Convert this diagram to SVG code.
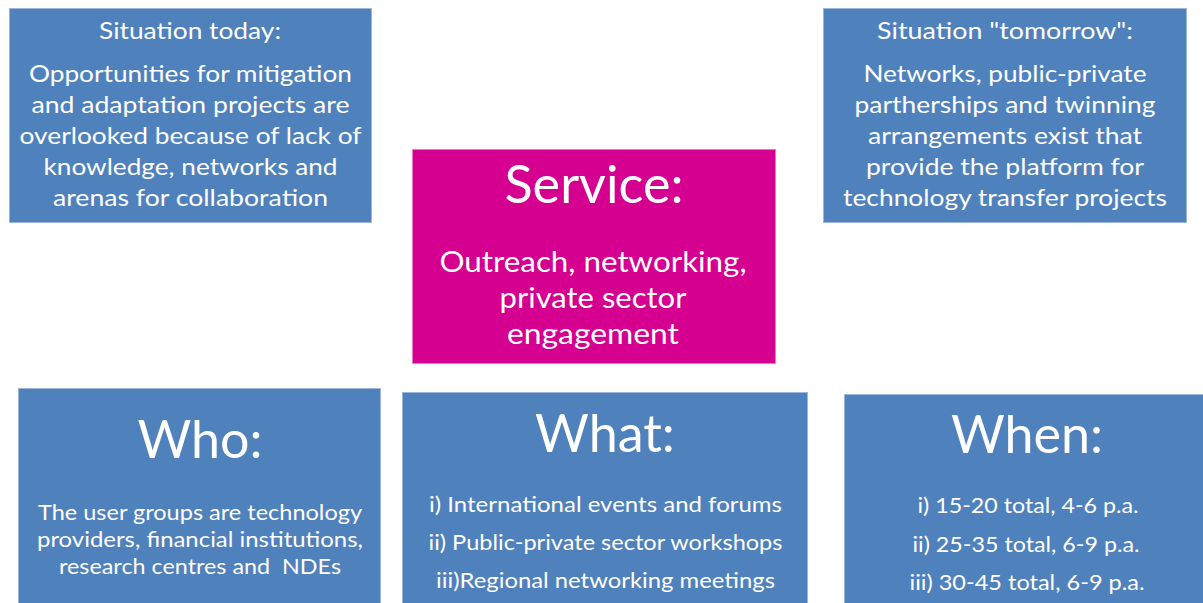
<svg xmlns="http://www.w3.org/2000/svg" width="1203" height="603" viewBox="0 0 1203 603">
<style>
.box{fill:#4F81BD;stroke:#9DB7D8;stroke-width:1}
.svc{fill:#D5008F;stroke:#E87BC4;stroke-width:1}
text{font-family:Lato,"Open Sans","Liberation Sans",sans-serif;fill:#FFFFFF;text-anchor:middle}
.t{font-size:22.5px}
.b{font-size:24px}
.s{font-size:22px}
.big{font-size:52px}
.svt{font-size:28px}
</style>
<rect width="1203" height="603" fill="#FFFFFF"/>
<g id="connectors"></g>
<g id="today">
<rect class="box" x="9.5" y="8.5" width="362" height="214"/>
<text class="t" x="190" y="39" textLength="182" lengthAdjust="spacingAndGlyphs">Situation today:</text>
<text class="b" x="190.5" y="82" textLength="323" lengthAdjust="spacingAndGlyphs">Opportunities for mitigation</text>
<text class="b" x="190.5" y="113" textLength="318" lengthAdjust="spacingAndGlyphs">and adaptation projects are</text>
<text class="b" x="190.5" y="144" textLength="342" lengthAdjust="spacingAndGlyphs">overlooked because of lack of</text>
<text class="b" x="190.5" y="175" textLength="294" lengthAdjust="spacingAndGlyphs">knowledge, networks and</text>
<text class="b" x="190.5" y="206" textLength="275" lengthAdjust="spacingAndGlyphs">arenas for collaboration</text>
</g>
<g id="tomorrow">
<rect class="box" x="823.5" y="8.5" width="363" height="214"/>
<text class="t" x="1005" y="39" textLength="256" lengthAdjust="spacingAndGlyphs">Situation "tomorrow":</text>
<text class="b" x="1005" y="82" textLength="283" lengthAdjust="spacingAndGlyphs">Networks, public-private</text>
<text class="b" x="1005" y="113" textLength="301" lengthAdjust="spacingAndGlyphs">partherships and twinning</text>
<text class="b" x="1005" y="144" textLength="274" lengthAdjust="spacingAndGlyphs">arrangements exist that</text>
<text class="b" x="1005" y="175" textLength="278" lengthAdjust="spacingAndGlyphs">provide the platform for</text>
<text class="b" x="1005" y="206" textLength="324" lengthAdjust="spacingAndGlyphs">technology transfer projects</text>
</g>
<g id="service">
<rect class="svc" x="412.5" y="149.5" width="363" height="214"/>
<text class="big" x="594" y="203" textLength="179" lengthAdjust="spacingAndGlyphs">Service:</text>
<text class="svt" x="593" y="272" textLength="307" lengthAdjust="spacingAndGlyphs">Outreach, networking,</text>
<text class="svt" x="593" y="308" textLength="187" lengthAdjust="spacingAndGlyphs">private sector</text>
<text class="svt" x="593" y="344" textLength="172" lengthAdjust="spacingAndGlyphs">engagement</text>
</g>
<g id="who">
<rect class="box" x="18.5" y="388.5" width="362" height="220"/>
<text class="big" x="200" y="458">Who:</text>
<text class="s" x="200" y="520" textLength="324" lengthAdjust="spacingAndGlyphs">The user groups are technology</text>
<text class="s" x="200" y="547" textLength="326" lengthAdjust="spacingAndGlyphs">providers, financial institutions,</text>
<text class="s" x="200" y="574" textLength="282" lengthAdjust="spacingAndGlyphs" xml:space="preserve">research centres and  NDEs</text>
</g>
<g id="what">
<rect class="box" x="402.5" y="392.5" width="405" height="220"/>
<text class="big" x="605" y="452">What:</text>
<text class="s" x="605.5" y="512" textLength="353" lengthAdjust="spacingAndGlyphs">i) International events and forums</text>
<text class="s" x="605.5" y="550" textLength="354" lengthAdjust="spacingAndGlyphs">ii) Public-private sector workshops</text>
<text class="s" x="605.5" y="588" textLength="339" lengthAdjust="spacingAndGlyphs">iii)Regional networking meetings</text>
</g>
<g id="when">
<rect class="box" x="844.5" y="394.5" width="370" height="220"/>
<text class="big" x="1027" y="453">When:</text>
<text class="s" x="1028" y="513" textLength="221" lengthAdjust="spacingAndGlyphs">i) 15-20 total, 4-6 p.a.</text>
<text class="s" x="1026" y="552" textLength="227" lengthAdjust="spacingAndGlyphs">ii) 25-35 total, 6-9 p.a.</text>
<text class="s" x="1027" y="590" textLength="235" lengthAdjust="spacingAndGlyphs">iii) 30-45 total, 6-9 p.a.</text>
</g>
</svg>
